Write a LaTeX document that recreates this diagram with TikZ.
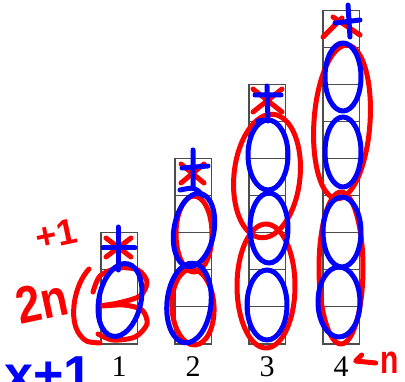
\documentclass[tikz,border=0pt]{standalone}
\usepackage{fontspec}
\setmainfont{Liberation Serif}
\newfontfamily\inkfont{Liberation Sans}
\usetikzlibrary{positioning}

\begin{document}
\begin{tikzpicture}[x=1pt, y=-1pt,
    cell/.style={draw=black!70, line width=1.1pt},
    num/.style={font=\fontsize{30}{30}\selectfont, inner sep=0pt},
    redink/.style={draw=red, line width=5pt, line cap=round, line join=round},
    blueink/.style={draw=blue, line width=5pt, line cap=round, line join=round},
    redtxt/.style={text=red, inner sep=0pt},
    bluetxt/.style={text=blue, inner sep=0pt}]
  \useasboundingbox (0,0) rectangle (405,382);
  \clip (0,0) rectangle (405,382);
  \foreach \n in {1,...,4} {
    \pgfmathsetmacro{\xl}{101+74*(\n-1)}
    \pgfmathtruncatemacro{\m}{2*\n+1}
    \foreach \k in {1,...,\m}
      \draw[cell] (\xl,344-37.1*\k+37.1) rectangle ++(36.5,-37.1);
    \node[num] (lab\n) at (\xl+18,367) {\n};
  }
  \draw[redink] (106,238) -- (131,257) (106,257) -- (131,238);
  \draw[redink] (181,164) -- (204,183) (181,183) -- (204,164);
  \draw[redink] (253,89) -- (282,112) (253,112) -- (282,89);
  \draw[redink] (323,37) -- (342,18) (333,17) -- (360,35);
  \draw[redink] plot[smooth] coordinates {(93,292) (100,276) (118,268) (138,270)
    (147,282) (140,296) (118,303) (100,306) (124,305) (142,310) (147,324)
    (135,337) (113,340) (98,334)};
  \foreach \cx/\cy/\rx/\ry/\a in {194/234/18/38/0, 193/307/21/38/3,
      267/176/33/62/-6, 266/286/29/62/0, 342/122/28/77/-4, 341/268/22/76/0}
    \draw[redink, rotate around={\a:(\cx,\cy)}] (\cx,\cy) ellipse [x radius=\rx pt, y radius=\ry pt];
  \draw[blueink] (118,227) -- (118,270) (103,248) -- (135,248);
  \draw[blueink] (193,150) -- (193,188) (182,168) -- (208,166)
    (180,190) .. controls (195,187) .. (203,196);
  \draw[blueink] (267,86) -- (268,121) (255,95) -- (281,95) (258,121) -- (266,120);
  \draw[blueink] (348,5) -- (350,37) (335,23) -- (360,20);
  \foreach \cx/\cy/\rx/\ry/\a in {120/300/21/37/-12, 194/230/20/37/-10,
      189/303/22/40/-6, 268/155/20/35/0, 269/228/19/35/0, 267/305/20/35/0,
      343/77/18/34/0, 343/152/18/35/0, 342/232/19/35/0, 339/302/21/35/0}
    \draw[blueink, rotate around={\a:(\cx,\cy)}] (\cx,\cy) ellipse [x radius=\rx pt, y radius=\ry pt];
  \node[redtxt, font=\inkfont\bfseries\fontsize{36}{36}\selectfont, rotate=12] (plus) at (56,234) {+1};
  \node[redtxt, font=\inkfont\bfseries\fontsize{52}{52}\selectfont, rotate=12, xscale=0.85, transform shape] (twon) at (42,301) {2n};
  \draw[redink] (89,269) .. controls (74,285) and (68,320) .. (80,335)
    .. controls (86,342) .. (100,343);
  \node[bluetxt, font=\inkfont\bfseries\fontsize{52}{52}\selectfont, anchor=base west] (xplus) at (4,393) {x+1};
  \node[redtxt, font=\inkfont\bfseries\fontsize{40}{40}\selectfont, xscale=0.75, transform shape,
        right=32pt of lab4, yshift=4pt] (nmark) {n};
  \draw[redink] ([xshift=-5pt]nmark.west) -- ++(-20,-2) -- ++(6,-6);
\end{tikzpicture}
\end{document}
